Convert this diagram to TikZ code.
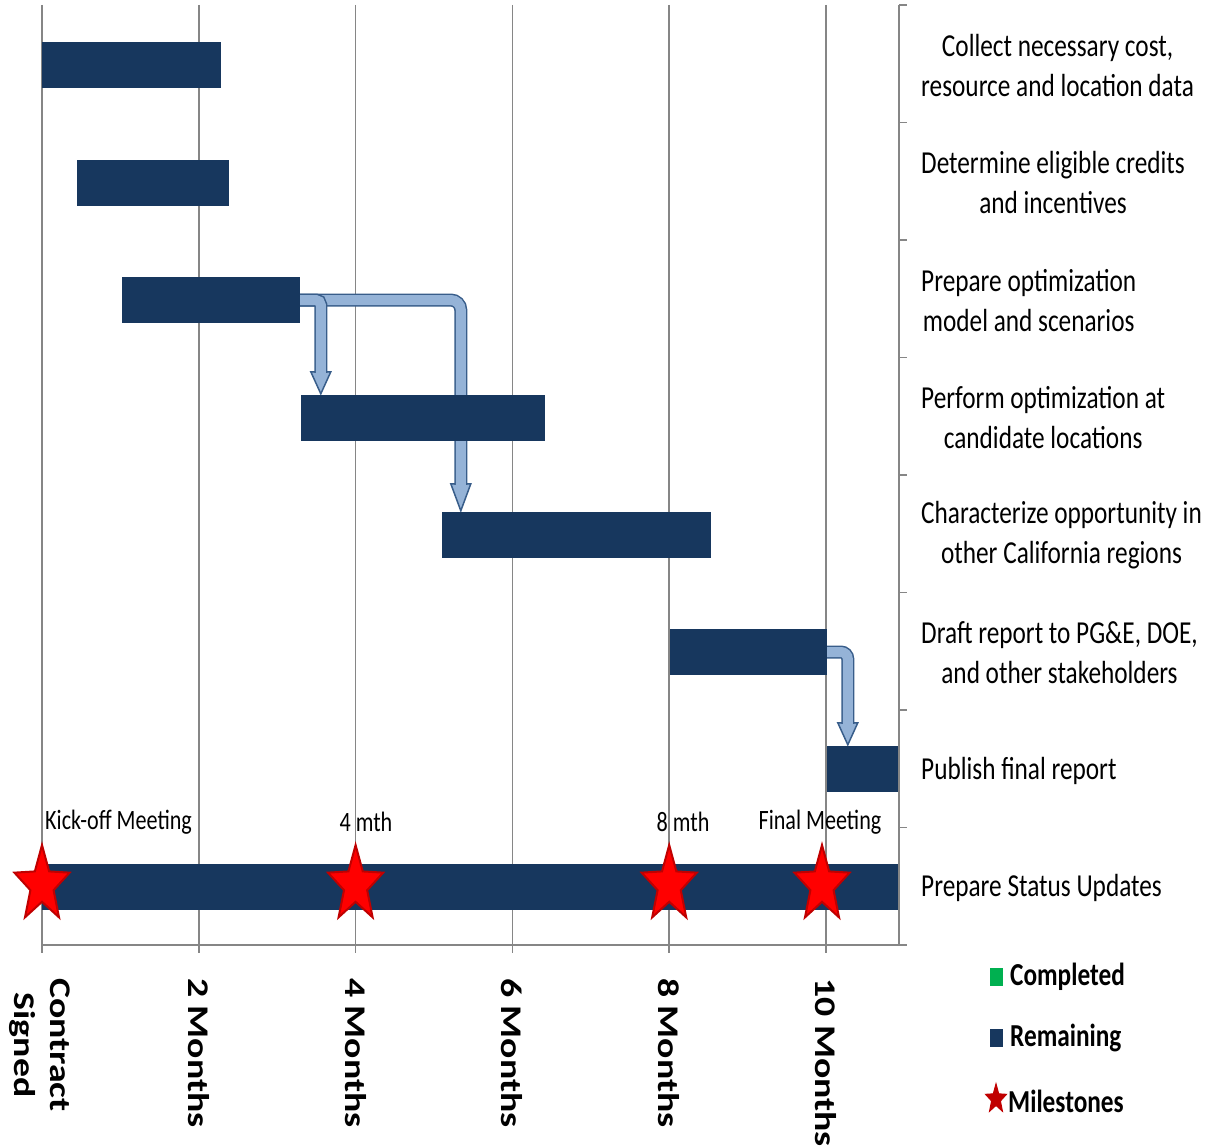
\documentclass[tikz,border=0pt]{standalone}
\usepackage{fontspec}
\setmainfont[FakeStretch=0.79]{Carlito}
\newfontfamily\axisfont[FakeStretch=1.26]{Carlito}
\usetikzlibrary{calc,positioning}

\definecolor{barnavy}{RGB}{23,55,94}
\definecolor{gridgray}{RGB}{134,134,134}
\definecolor{linkfill}{RGB}{149,179,215}
\definecolor{linkedge}{RGB}{56,93,138}
\definecolor{starred}{RGB}{255,0,0}
\definecolor{stardark}{RGB}{192,0,0}
\definecolor{donegreen}{RGB}{0,176,80}

\pgfdeclarelayer{grid}
\pgfdeclarelayer{links}
\pgfsetlayers{grid,links,main}

\tikzset{
  gridline/.style={draw=gridgray, line width=1.5pt},
  taskbar/.style={fill=barnavy, inner sep=0pt, minimum height=46pt},
  tasklabel/.style={anchor=west, align=center, inner sep=0pt, font=\fontsize{32}{40}\selectfont},
  mslabel/.style={inner sep=0pt, font=\fontsize{28}{30}\selectfont},
  monthlabel/.style={rotate=-90, anchor=west, align=center, inner sep=0pt,
    font=\axisfont\bfseries\fontsize{30}{36}\selectfont},
  legendtext/.style={anchor=west, inner sep=0pt, font=\bfseries\fontsize{32}{36}\selectfont},
  legendkey/.style={inner sep=0pt, minimum width=13pt, minimum height=18pt},
  linkshaft/.style={draw=linkedge, line width=1.5pt, double=linkfill, double distance=10pt},
  linkhead/.style={fill=linkfill, draw=linkedge, line width=1.5pt, line join=miter},
  milestonestar/.style={fill=starred, draw=stardark, line width=2pt, line join=miter},
  pics/milestone/.style={code={
    \path[pic actions, x=29pt, y=40pt]
      (90:1) -- (126:0.42) -- (162:1) -- (198:0.42) -- (234:1) -- (270:0.42)
      -- (306:1) -- (342:0.42) -- (18:1) -- (54:0.42) -- cycle;
  }}
}

% block arrow from a bar to the top of the next one
\newcommand{\handoff}[4]{%
  \filldraw[linkhead] ($(#2)+(-10,-#4)$) -- ($(#2)+(10,-#4)$) -- (#2) -- cycle;
  \draw[linkshaft, rounded corners=#3] (#1) -| ($(#2)+(0,1-#4)$);
}

\begin{document}
\begin{tikzpicture}[x=1pt, y=-1pt]
  \useasboundingbox (0,0) rectangle (1208,1148);

  % grid and axes
  \begin{pgfonlayer}{grid}
    \foreach \x in {42,198.8,355.6,512.4,669.2,826} {
      \draw[gridline] (\x,5) -- (\x,953);
    }
    \draw[gridline] (899,5) -- (899,945);
    \draw[gridline] (42,945) -- (907,945);
    \foreach \i in {0,...,7} {
      \draw[gridline] (899,5+117.5*\i) -- (907,5+117.5*\i);
    }
  \end{pgfonlayer}

  % task bars
  \foreach \name/\from/\to/\y in {collect/42/221/65.5, credits/77/229/183,
      prepare/122/300/300, perform/301/545/418, regions/442/711/535,
      draft/670/827/652, publish/827/898/769, status/42/898/887} {
    \node[taskbar, minimum width={(\to-\from)*1pt}] (\name) at ({(\from+\to)/2},\y) {};
  }

  % task names
  \node[tasklabel] (l1) at (921,65.5) {Collect necessary cost,\\resource and location data};
  \node[tasklabel] (l2) at (921,183) {Determine eligible credits\\and incentives};
  \node[tasklabel] (l3) at (921,300.5) {Prepare optimization\\model and scenarios};
  \node[tasklabel] (l4) at (921,418) {Perform optimization at\\candidate locations};
  \node[tasklabel] (l5) at (921,535.5) {Characterize opportunity in\\other California regions};
  \node[tasklabel] (l6) at (921,653) {Draft report to PG\&E, DOE,\\and other stakeholders};
  \node[tasklabel] (l7) at (921,770.5) {Publish final report};
  \node[tasklabel] (l8) at (921,888) {Prepare Status Updates};

  % dependencies
  \coordinate (performin) at ($(perform.north west)+(20,-1)$);
  \coordinate (regionsin) at ($(regions.north west)+(19,-1)$);
  \coordinate (publishin) at ($(publish.north west)+(21,-1)$);
  \begin{pgfonlayer}{links}
    \handoff{prepare.east}{regionsin}{10pt}{27}
    \handoff{prepare.east}{performin}{5pt}{22}
    \handoff{draft.east}{publishin}{7pt}{22}
  \end{pgfonlayer}

  % milestones
  \foreach \x in {42,355.6,669.2,822} {
    \pic[milestonestar] at (\x,885) {milestone};
  }
  \node[mslabel, anchor=west] (kickoff) at (45,822) {Kick-off Meeting};
  \node[mslabel] (mth4) at (366,822) {4 mth};
  \node[mslabel] (mth8) at (683,822) {8 mth};
  \node[mslabel] (final) at (820,822) {Final Meeting};

  % time axis
  \node[monthlabel] (m0) at (40,978) {Contract\\Signed};
  \node[monthlabel] (m2) at (198.8,978) {2 Months};
  \node[monthlabel] (m4) at (355.6,978) {4 Months};
  \node[monthlabel] (m6) at (512.4,978) {6 Months};
  \node[monthlabel] (m8) at (669.2,978) {8 Months};
  \node[monthlabel] (m10) at (826,978) {10 Months};

  % legend
  \node[legendtext] (done) at (1010,977) {Completed};
  \node[legendtext] (left) at (1010,1038) {Remaining};
  \node[legendtext] (miles) at (1008,1101) {Milestones};
  \node[legendkey, fill=donegreen, left=7pt of done] (donekey) {};
  \node[legendkey, fill=barnavy, left=7pt of left] (leftkey) {};
  \pic[fill=stardark, draw=stardark, line width=1pt, scale=0.38] at (996,1099) {milestone};
\end{tikzpicture}
\end{document}
